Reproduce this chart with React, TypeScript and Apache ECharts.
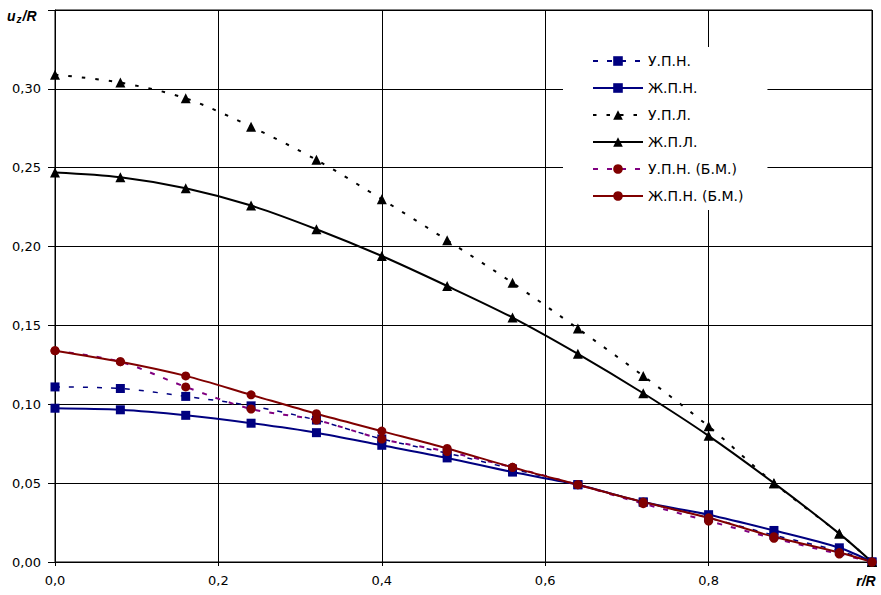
import React, { useEffect, useRef } from "react";
import * as echarts from "echarts";

const xValues = [0, 0.08, 0.16, 0.24, 0.32, 0.4, 0.48, 0.56, 0.64, 0.72, 0.8, 0.88, 0.96, 1.0];
const upn = [0.111, 0.110, 0.105, 0.099, 0.090, 0.078, 0.069, 0.059, 0.049, 0.038, 0.028, 0.017, 0.007, 0];
const zhpn = [0.0975, 0.0965, 0.093, 0.088, 0.082, 0.074, 0.066, 0.057, 0.049, 0.038, 0.030, 0.020, 0.009, 0];
const upl = [0.309, 0.304, 0.294, 0.276, 0.255, 0.230, 0.204, 0.177, 0.148, 0.118, 0.086, 0.050, 0.018, 0];
const zhpl = [0.247, 0.244, 0.237, 0.226, 0.211, 0.194, 0.175, 0.155, 0.132, 0.107, 0.080, 0.050, 0.018, 0];
const upnBm = [0.134, 0.127, 0.111, 0.097, 0.090, 0.078, 0.070, 0.060, 0.049, 0.037, 0.026, 0.015, 0.005, 0];
const zhpnBm = [0.134, 0.127, 0.118, 0.106, 0.094, 0.083, 0.072, 0.060, 0.049, 0.038, 0.028, 0.016, 0.006, 0];

const seriesNames = ["У.П.Н.", "Ж.П.Н.", "У.П.Л.", "Ж.П.Л.", "У.П.Н. (Б.М.)", "Ж.П.Н. (Б.М.)"];

const FONT = "'DejaVu Sans', 'Liberation Sans', Arial, sans-serif";
const TFONT = "'Liberation Sans', Arial, sans-serif";

function pairs(ys: number[]) {
  return xValues.map((x, i) => [x, ys[i]]);
}

export default function App() {
  const ref = useRef<HTMLDivElement>(null);
  useEffect(() => {
    if (!ref.current) return;
    const chart = echarts.init(ref.current, undefined, { renderer: "svg" });
    const mk = (
      name: string,
      data: number[],
      color: string,
      markerColor: string,
      symbol: string,
      size: number,
      type: any,
      width: number
    ) => ({
      name,
      type: "line",
      data: pairs(data),
      smooth: 0.3,
      symbol,
      symbolSize: size,
      showSymbol: true,
      lineStyle: { color, width, type },
      itemStyle: { color: markerColor, borderWidth: 0 },
      color: markerColor,
    });
    chart.setOption({
      animation: false,
      textStyle: { fontFamily: FONT },
      grid: {
        left: 55,
        right: 9,
        top: 10,
        bottom: 33,
        show: true,
        borderColor: "#000",
        borderWidth: 1,
        backgroundColor: "#fff",
      },
      legend: {
        orient: "vertical",
        left: 563,
        top: 47,
        backgroundColor: "#fff",
        padding: [7, 24, 7, 29],
        itemWidth: 50,
        itemHeight: 12,
        itemGap: 13,
        textStyle: { fontFamily: FONT, fontSize: 14, color: "#000" },
        data: seriesNames,
      },
      graphic: [
        {
          type: "text",
          left: 7,
          top: 9,
          style: {
            text: "{u|u}{z|z}{r|/R}",
            rich: {
              u: { fontFamily: TFONT, fontSize: 14, fontWeight: "bold", fontStyle: "italic", fill: "#000" },
              z: { fontFamily: TFONT, fontSize: 10, fontWeight: "bold", fontStyle: "italic", fill: "#000", padding: [6, 1, 0, 1] },
              r: { fontFamily: TFONT, fontSize: 14, fontWeight: "bold", fontStyle: "italic", fill: "#000" },
            },
          },
        },
      ],
      xAxis: {
        type: "value",
        min: 0,
        max: 1,
        interval: 0.2,
        axisLine: { show: true, lineStyle: { color: "#000" } },
        axisTick: { show: true, length: 4, lineStyle: { color: "#000" } },
        splitLine: { show: true, lineStyle: { color: "#000", width: 1 } },
        axisLabel: {
          margin: 12,
          color: "#000",
          fontSize: 13,
          fontFamily: FONT,
          formatter: (v: number) =>
            Math.abs(v - 1) < 1e-9 ? "{r|r/R}" : v.toFixed(1).replace(".", ","),
          rich: {
            r: { fontFamily: TFONT, fontSize: 14, fontWeight: "bold", fontStyle: "italic", color: "#000", padding: [0, 12, 0, 0] },
          },
        },
      },
      yAxis: {
        type: "value",
        min: 0,
        max: 0.35,
        interval: 0.05,
        axisLine: { show: true, lineStyle: { color: "#000" } },
        axisTick: { show: true, length: 7, lineStyle: { color: "#000" } },
        splitLine: { show: true, lineStyle: { color: "#000", width: 1 } },
        axisLabel: {
          margin: 14,
          color: "#000",
          fontSize: 13,
          fontFamily: FONT,
          formatter: (v: number) => (v > 0.34 ? "" : v.toFixed(2).replace(".", ",")),
        },
      },
      series: [
        mk(seriesNames[0], upn, "#000080", "#000080", "rect", 9, [5, 9], 1.5),
        mk(seriesNames[1], zhpn, "#000080", "#000080", "rect", 9, "solid", 2),
        mk(seriesNames[2], upl, "#000", "#000", "triangle", 10, [3.5, 10], 2),
        mk(seriesNames[3], zhpl, "#000", "#000", "triangle", 10, "solid", 2),
        mk(seriesNames[4], upnBm, "#800080", "#800000", "circle", 9, [5, 9], 2),
        mk(seriesNames[5], zhpnBm, "#800000", "#800000", "circle", 9, "solid", 2),
      ],
    });
    return () => chart.dispose();
  }, []);
  return (
    <div
      ref={ref}
      style={{ position: "fixed", left: 0, top: 0, width: 881, height: 595, background: "#fff" }}
    />
  );
}
